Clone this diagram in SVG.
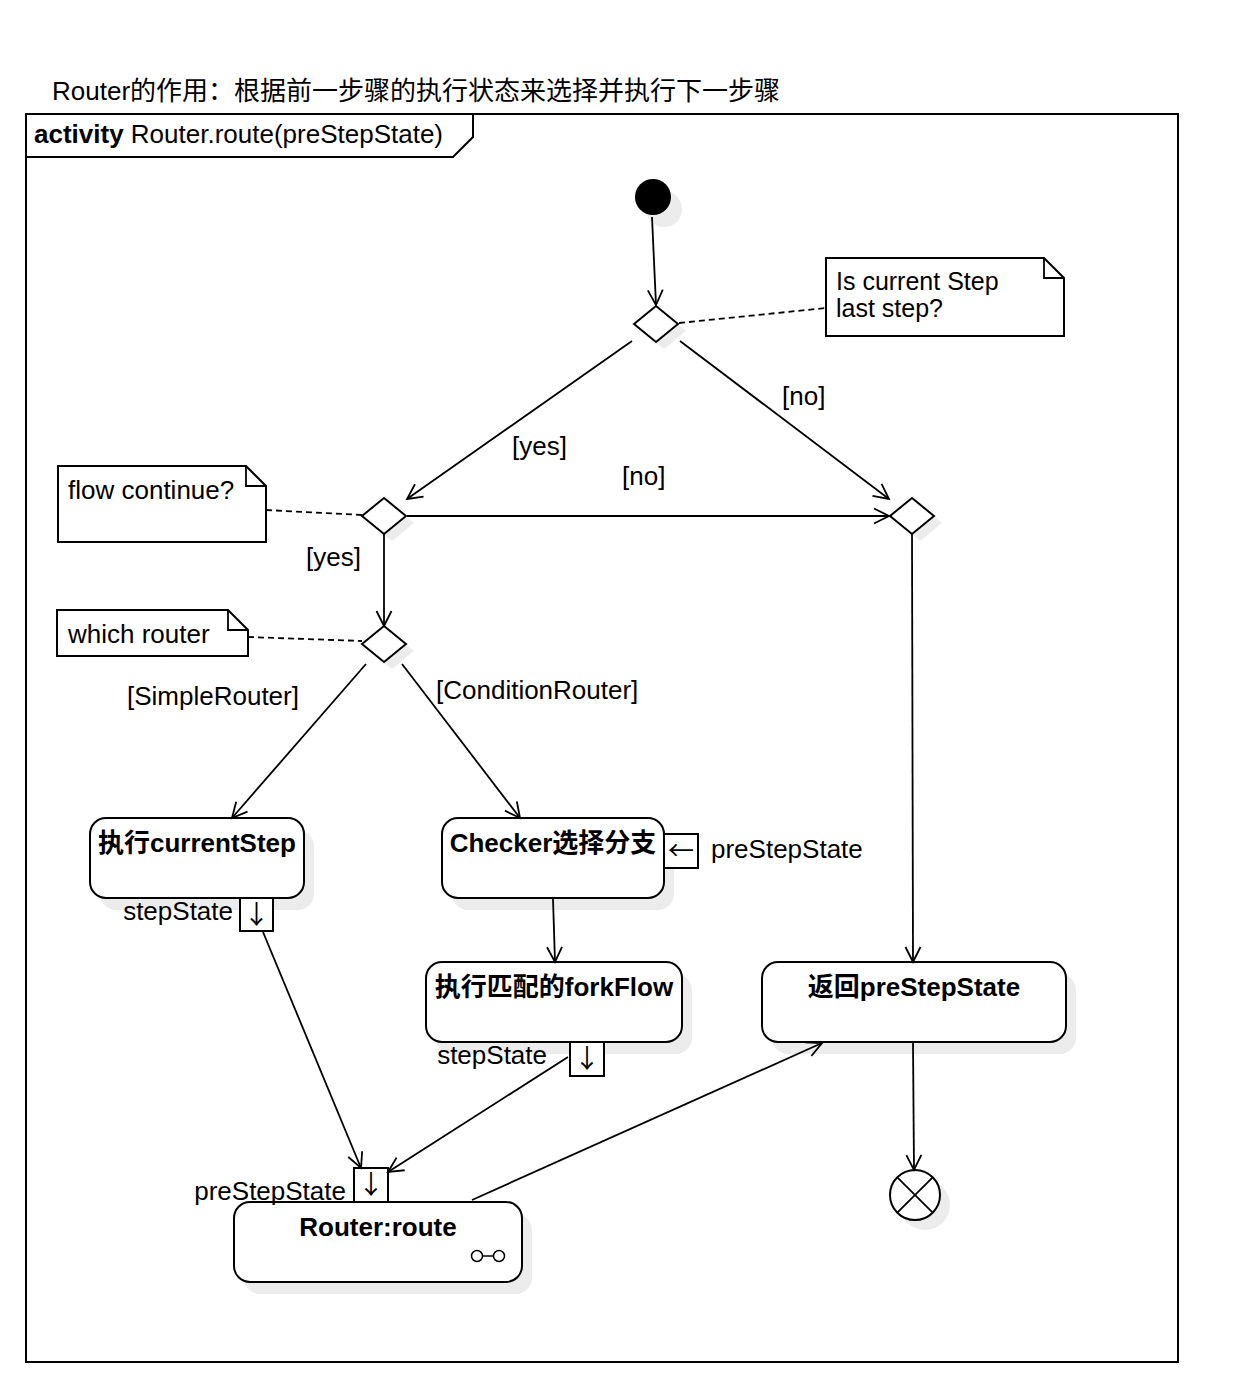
<svg xmlns="http://www.w3.org/2000/svg" width="1252" height="1396" viewBox="0 0 1252 1396">
<defs>
<style>
text{font-family:"Liberation Sans","Noto Sans CJK SC",sans-serif;font-size:26px;fill:#000}
.b{font-weight:bold}
.line{fill:none;stroke:#000;stroke-width:1.8}
.dash{fill:none;stroke:#000;stroke-width:1.8;stroke-dasharray:6,4}
.box{fill:#fff;stroke:#000;stroke-width:2}
.sh{fill:#ececec;stroke:none}
.pin{font-family:"Noto Sans CJK SC","DejaVu Sans",sans-serif;font-size:26px;fill:#000}
.nt{font-size:25px}
</style>
<marker id="arr" viewBox="0 0 20 20" refX="17" refY="10" markerWidth="20" markerHeight="20" markerUnits="userSpaceOnUse" orient="auto">
<path d="M2,2.5 L17,10 L2,17.5" fill="none" stroke="#000" stroke-width="1.8"/>
</marker>
</defs>
<rect width="1252" height="1396" fill="#fff"/>
<text x="52" y="100">Router的作用：根据前一步骤的执行状态来选择并执行下一步骤</text>
<g id="frame">
<rect x="26" y="114" width="1152" height="1248" fill="none" stroke="#000" stroke-width="2"/>
<path d="M26,157 L453,157 L473,137 L473,114" fill="none" stroke="#000" stroke-width="2"/>
<text x="34" y="143"><tspan class="b">activity</tspan> Router.route(preStepState)</text>
</g>
<g id="initial">
<circle class="sh" cx="664" cy="209" r="18"/>
<circle cx="653" cy="197" r="18" fill="#000"/>
</g>
<g id="d1">
<path class="sh" d="M664,313 L686,331 L664,349 L642,331 Z"/>
<path class="box" d="M656,306 L678,324 L656,342 L634,324 Z"/>
</g>
<g id="note1">
<path class="box" d="M826,258 L1044,258 L1064,278 L1064,336 L826,336 Z"/>
<path class="line" d="M1044,258 L1044,278 L1064,278"/>
<text class="nt" x="836" y="290">Is current Step</text>
<text class="nt" x="836" y="317">last step?</text>
</g>
<g id="d2">
<path class="sh" d="M392,505 L414,523 L392,541 L370,523 Z"/>
<path class="box" d="M384,498 L406,516 L384,534 L362,516 Z"/>
</g>
<g id="d3">
<path class="sh" d="M920,505 L942,523 L920,541 L898,523 Z"/>
<path class="box" d="M912,498 L934,516 L912,534 L890,516 Z"/>
</g>
<g id="d4">
<path class="sh" d="M392,633 L414,651 L392,669 L370,651 Z"/>
<path class="box" d="M384,626 L406,644 L384,662 L362,644 Z"/>
</g>
<g id="note2">
<path class="box" d="M58,466 L246,466 L266,486 L266,542 L58,542 Z"/>
<path class="line" d="M246,466 L246,486 L266,486"/>
<text x="68" y="499">flow continue?</text>
</g>
<g id="note3">
<path class="box" d="M57,610 L228,610 L248,630 L248,656 L57,656 Z"/>
<path class="line" d="M228,610 L228,630 L248,630"/>
<text x="68" y="643">which router</text>
</g>
<g id="currentStep">
<rect class="sh" x="100" y="830" width="214" height="80" rx="16"/>
<rect class="box" x="90" y="818" width="214" height="80" rx="16"/>
<text class="b" x="197" y="852" text-anchor="middle">执行currentStep</text>
<rect class="box" x="240" y="898" width="33" height="33"/>
<text class="pin" x="256.5" y="924" text-anchor="middle">↓</text>
<text x="233" y="920" text-anchor="end">stepState</text>
</g>
<g id="checker">
<rect class="sh" x="452" y="830" width="222" height="80" rx="16"/>
<rect class="box" x="442" y="818" width="222" height="80" rx="16"/>
<text class="b" x="553" y="852" text-anchor="middle">Checker选择分支</text>
<rect class="box" x="664" y="834" width="34" height="34"/>
<text class="pin" x="681" y="860" text-anchor="middle">←</text>
<text x="711" y="858">preStepState</text>
</g>
<g id="forkFlow">
<rect class="sh" x="436" y="974" width="256" height="80" rx="16"/>
<rect class="box" x="426" y="962" width="256" height="80" rx="16"/>
<text class="b" x="554" y="996" text-anchor="middle">执行匹配的forkFlow</text>
<rect class="box" x="570" y="1042" width="34" height="34"/>
<text class="pin" x="587" y="1068" text-anchor="middle">↓</text>
<text x="547" y="1064" text-anchor="end">stepState</text>
</g>
<g id="returnState">
<rect class="sh" x="772" y="974" width="304" height="80" rx="16"/>
<rect class="box" x="762" y="962" width="304" height="80" rx="16"/>
<text class="b" x="914" y="996" text-anchor="middle">返回preStepState</text>
</g>
<g id="routerRoute">
<rect class="sh" x="244" y="1214" width="288" height="80" rx="16"/>
<rect class="box" x="234" y="1202" width="288" height="80" rx="16"/>
<text class="b" x="378" y="1236" text-anchor="middle">Router:route</text>
<circle cx="477" cy="1256" r="5.5" fill="#fff" stroke="#000" stroke-width="1.5"/>
<circle cx="499" cy="1256" r="5.5" fill="#fff" stroke="#000" stroke-width="1.5"/>
<line x1="482.5" y1="1256" x2="493.5" y2="1256" stroke="#000" stroke-width="1.5"/>
<rect class="box" x="354" y="1168" width="34" height="34"/>
<text class="pin" x="371" y="1194" text-anchor="middle">↓</text>
<text x="346" y="1200" text-anchor="end">preStepState</text>
</g>
<g id="final">
<circle class="sh" cx="925" cy="1205" r="25"/>
<circle class="box" cx="915" cy="1195" r="25"/>
<line class="line" x1="897.3" y1="1177.3" x2="932.7" y2="1212.7"/>
<line class="line" x1="932.7" y1="1177.3" x2="897.3" y2="1212.7"/>
</g>
<g id="connectors">
<line class="line" x1="652" y1="217" x2="656" y2="305" marker-end="url(#arr)"/>
<line class="line" x1="632" y1="341" x2="407" y2="499" marker-end="url(#arr)"/>
<line class="line" x1="680" y1="341" x2="889" y2="499" marker-end="url(#arr)"/>
<line class="line" x1="407" y1="516" x2="889" y2="516" marker-end="url(#arr)"/>
<line class="line" x1="384" y1="534" x2="384" y2="626" marker-end="url(#arr)"/>
<line class="line" x1="366" y1="664" x2="232" y2="818" marker-end="url(#arr)"/>
<line class="line" x1="402" y1="664" x2="520" y2="818" marker-end="url(#arr)"/>
<line class="line" x1="912" y1="534" x2="913" y2="962" marker-end="url(#arr)"/>
<line class="line" x1="553" y1="899" x2="555" y2="962" marker-end="url(#arr)"/>
<line class="line" x1="263" y1="932" x2="361" y2="1168" marker-end="url(#arr)"/>
<line class="line" x1="568" y1="1057" x2="388" y2="1172" marker-end="url(#arr)"/>
<line class="line" x1="472" y1="1200" x2="822" y2="1043" marker-end="url(#arr)"/>
<line class="line" x1="913" y1="1043" x2="914" y2="1170" marker-end="url(#arr)"/>
<line class="dash" x1="679" y1="323" x2="826" y2="308"/>
<line class="dash" x1="266" y1="510" x2="362" y2="515"/>
<line class="dash" x1="248" y1="637" x2="362" y2="641"/>
<text x="512" y="455">[yes]</text>
<text x="782" y="405">[no]</text>
<text x="622" y="485">[no]</text>
<text x="306" y="566">[yes]</text>
<text x="127" y="705">[SimpleRouter]</text>
<text x="436" y="699">[ConditionRouter]</text>
</g>
</svg>
